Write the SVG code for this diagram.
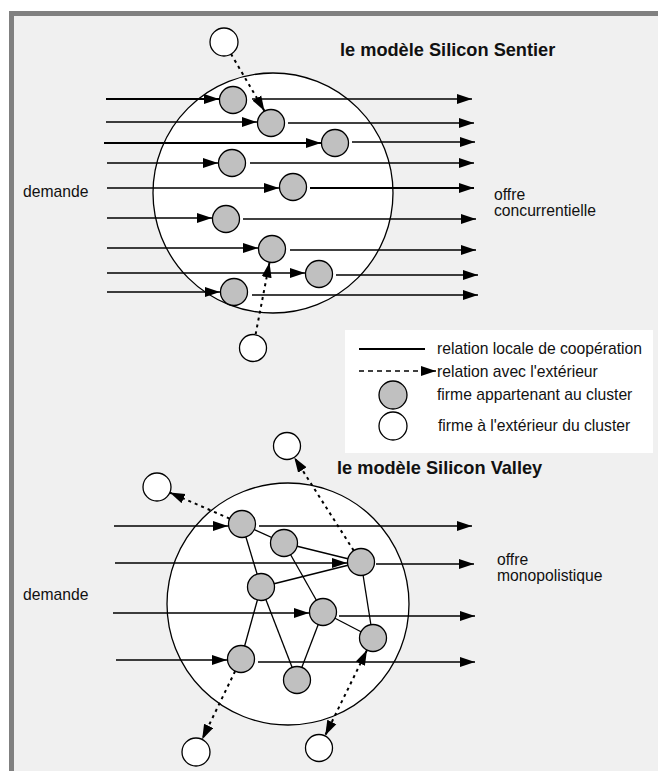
<svg xmlns="http://www.w3.org/2000/svg" width="658" height="771" viewBox="0 0 658 771">
<defs>
<style>
.cluster{fill:#fff;stroke:#000;stroke-width:1.3}
.firm{fill:#c0c0c0;stroke:#000;stroke-width:1.3}
.ext{fill:#fff;stroke:#000;stroke-width:1.3}
.flow{stroke:#000;stroke-width:1.5;fill:none}
.thick{stroke-width:2.2}
.xlink{stroke:#000;stroke-width:2;stroke-dasharray:3 4;fill:none}
.link{stroke:#000;stroke-width:1.3;fill:none}
text{font-family:"Liberation Sans",Arial,sans-serif;font-size:15.7px;fill:#111}
.title{font-weight:bold;font-size:18.2px}
</style>
<marker id="ah" markerUnits="userSpaceOnUse" markerWidth="16" markerHeight="11" refX="15" refY="5.5" orient="auto-start-reverse" viewBox="0 0 16 11">
<path d="M0,0.5 L15,5.5 L0,10.5 z" fill="#000"/>
</marker>
</defs>
<rect x="0" y="0" width="658" height="771" fill="#fff"/>
<rect x="9" y="11" width="649" height="760" fill="#808080"/>
<rect x="14" y="16" width="644" height="755" fill="#f0f0f0"/>

<g id="cluster-sentier"><circle class="cluster" cx="273" cy="193" r="120"/></g>
<g id="cluster-valley"><circle class="cluster" cx="288" cy="604" r="121"/></g>

<g id="connectors">
<line class="flow thick" x1="106" y1="99" x2="219" y2="99" marker-end="url(#ah)"/>
<line class="flow" x1="252" y1="99" x2="472" y2="99" marker-end="url(#ah)"/>
<line class="flow" x1="106" y1="122" x2="257" y2="122" marker-end="url(#ah)"/>
<line class="flow" x1="288" y1="123" x2="474" y2="123" marker-end="url(#ah)"/>
<line class="flow thick" x1="104" y1="143" x2="321" y2="143" marker-end="url(#ah)"/>
<line class="flow" x1="352" y1="142" x2="475" y2="142" marker-end="url(#ah)"/>
<line class="flow" x1="107" y1="163" x2="218" y2="163" marker-end="url(#ah)"/>
<line class="flow" x1="250" y1="163" x2="474" y2="163" marker-end="url(#ah)"/>
<line class="flow" x1="107" y1="188" x2="279" y2="188" marker-end="url(#ah)"/>
<line class="flow thick" x1="310" y1="188" x2="474" y2="188" marker-end="url(#ah)"/>
<line class="flow" x1="107" y1="218" x2="212" y2="218" marker-end="url(#ah)"/>
<line class="flow" x1="243" y1="219" x2="476" y2="219" marker-end="url(#ah)"/>
<line class="flow" x1="107" y1="248" x2="258" y2="248" marker-end="url(#ah)"/>
<line class="flow" x1="290" y1="250" x2="476" y2="250" marker-end="url(#ah)"/>
<line class="flow" x1="107" y1="273" x2="305" y2="273" marker-end="url(#ah)"/>
<line class="flow" x1="336" y1="275" x2="478" y2="275" marker-end="url(#ah)"/>
<line class="flow" x1="107" y1="292" x2="220" y2="292" marker-end="url(#ah)"/>
<line class="flow" x1="252" y1="295" x2="478" y2="295" marker-end="url(#ah)"/>
<line class="xlink" x1="231" y1="54" x2="264.5" y2="111" marker-end="url(#ah)"/>
<line class="xlink" x1="255.6" y1="334.3" x2="269.5" y2="262.5" marker-end="url(#ah)"/>
<line class="flow" x1="114" y1="526" x2="228" y2="526" marker-end="url(#ah)"/>
<line class="flow" x1="259" y1="526" x2="472" y2="526" marker-end="url(#ah)"/>
<line class="flow" x1="115" y1="563" x2="347" y2="563" marker-end="url(#ah)"/>
<line class="flow" x1="376" y1="564" x2="474" y2="564" marker-end="url(#ah)"/>
<line class="flow" x1="113" y1="613" x2="309" y2="613" marker-end="url(#ah)"/>
<line class="flow" x1="339" y1="616" x2="475" y2="616" marker-end="url(#ah)"/>
<line class="flow" x1="116" y1="660" x2="227" y2="660" marker-end="url(#ah)"/>
<line class="flow" x1="258" y1="662" x2="475" y2="662" marker-end="url(#ah)"/>
<line class="link" x1="242" y1="524" x2="284" y2="543"/>
<line class="link" x1="242" y1="524" x2="261" y2="587"/>
<line class="link" x1="284" y1="543" x2="361" y2="562"/>
<line class="link" x1="284" y1="543" x2="323" y2="612"/>
<line class="link" x1="261" y1="587" x2="361" y2="562"/>
<line class="link" x1="261" y1="587" x2="241" y2="659"/>
<line class="link" x1="261" y1="587" x2="297" y2="680"/>
<line class="link" x1="323" y1="612" x2="297" y2="680"/>
<line class="link" x1="323" y1="612" x2="373" y2="638"/>
<line class="link" x1="361" y1="562" x2="373" y2="638"/>
<line class="xlink" x1="229.6" y1="518.6" x2="169.8" y2="492.6" marker-end="url(#ah)"/>
<line class="xlink" x1="353.7" y1="550.6" x2="294.3" y2="457.4" marker-end="url(#ah)"/>
<line class="xlink" x1="235.1" y1="671.2" x2="202.1" y2="739.4" marker-end="url(#ah)"/>
<line class="xlink" x1="367" y1="650.1" x2="325.2" y2="735.4" marker-start="url(#ah)" marker-end="url(#ah)"/>
</g>

<g id="s-ext1"><circle class="ext" cx="224" cy="42" r="14"/></g>
<g id="s-g1"><circle class="firm" cx="233" cy="100" r="13.5"/></g>
<g id="s-g2"><circle class="firm" cx="271" cy="123" r="13.5"/></g>
<g id="s-g3"><circle class="firm" cx="335" cy="143" r="13.5"/></g>
<g id="s-g4"><circle class="firm" cx="232" cy="163" r="13.5"/></g>
<g id="s-g5"><circle class="firm" cx="293" cy="187" r="13.5"/></g>
<g id="s-g6"><circle class="firm" cx="226" cy="219" r="13.5"/></g>
<g id="s-g7"><circle class="firm" cx="272" cy="249" r="13.5"/></g>
<g id="s-g8"><circle class="firm" cx="319" cy="274" r="13.5"/></g>
<g id="s-g9"><circle class="firm" cx="234" cy="292" r="13.5"/></g>
<g id="s-ext2"><circle class="ext" cx="253" cy="348" r="13.5"/></g>

<g id="v-ext1"><circle class="ext" cx="157" cy="487" r="14"/></g>
<g id="v-ext2"><circle class="ext" cx="287" cy="446" r="13.5"/></g>
<g id="v-ext3"><circle class="ext" cx="196" cy="752" r="14"/></g>
<g id="v-ext4"><circle class="ext" cx="319" cy="748" r="13.5"/></g>
<g id="v-n1"><circle class="firm" cx="242" cy="524" r="13.5"/></g>
<g id="v-n2"><circle class="firm" cx="284" cy="543" r="13.5"/></g>
<g id="v-n3"><circle class="firm" cx="361" cy="562" r="13.5"/></g>
<g id="v-n4"><circle class="firm" cx="261" cy="587" r="13.5"/></g>
<g id="v-n5"><circle class="firm" cx="323" cy="612" r="13.5"/></g>
<g id="v-n6"><circle class="firm" cx="373" cy="638" r="13.5"/></g>
<g id="v-n7"><circle class="firm" cx="241" cy="659" r="13.5"/></g>
<g id="v-n8"><circle class="firm" cx="297" cy="680" r="13.5"/></g>

<g id="labels">
<text class="title" x="340" y="56">le modèle Silicon Sentier</text>
<text x="23" y="197">demande</text>
<text x="494" y="200">offre</text>
<text x="494" y="216">concurrentielle</text>
<text class="title" x="337" y="474">le modèle Silicon Valley</text>
<text x="23" y="600">demande</text>
<text x="497" y="565">offre</text>
<text x="497" y="581">monopolistique</text>
</g>

<g id="legend">
<rect x="345" y="330" width="308" height="123" fill="#fff"/>
<line x1="359" y1="349" x2="425" y2="349" stroke="#000" stroke-width="2"/>
<line x1="359" y1="371" x2="436" y2="371" stroke="#000" stroke-width="1.5" stroke-dasharray="5 4" marker-end="url(#ah)"/>
<circle class="firm" cx="393" cy="395" r="14"/>
<circle class="ext" cx="393" cy="426" r="14"/>
<text x="437" y="354">relation locale de coopération</text>
<text x="437" y="377">relation avec l'extérieur</text>
<text x="437" y="400">firme appartenant au cluster</text>
<text x="438" y="431">firme à l'extérieur du cluster</text>
</g>
</svg>
